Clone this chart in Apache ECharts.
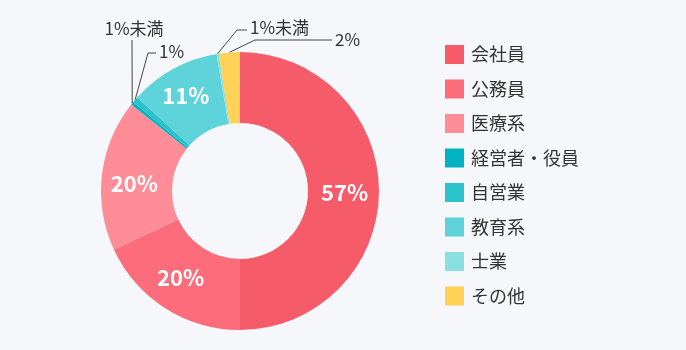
<!DOCTYPE html>
<html>
<head>
<meta charset="utf-8">
<title>職業構成</title>
<script src="https://cdn.jsdelivr.net/npm/echarts@6/dist/echarts.min.js"></script>
<style>
  html, body { margin: 0; padding: 0; background: #f6f7fb; }
  #chart { width: 686px; height: 350px; }
</style>
</head>
<body>
<div id="chart"></div>
<script>
// 職業カテゴリ
var categories = ['会社員', '公務員', '医療系', '経営者・役員', '自営業', '教育系', '士業', 'その他'];
// 円グラフ上の大きさ
var values = [50, 18.1, 17.6, 0.35, 0.7, 10.55, 0.25, 2.45];
// 表示ラベル
var labels = ['57%', '20%', '20%', '1%未満', '1%', '11%', '1%未満', '2%'];
var colors = ['#f65b6a', '#fc6c7a', '#fe8d97', '#00b3c2', '#2cc2cb', '#5ed3d9', '#8adfe3', '#fed257'];

// 外側ラベルの配置（テキスト位置と引き出し線の折れ点）
var outside = {
  3: { x: 134, y: 29, align: 'center', pts: [[132, 40]] },
  4: { x: 159, y: 52, align: 'left', pts: [[148, 53], [156, 53]] },
  6: { x: 250, y: 28, align: 'left', pts: [[237, 30], [247, 30]] },
  7: { x: 335, y: 40, align: 'left', pts: [[255, 40], [332, 40]] }
};
// 内側ラベルの微調整
var nudge = { 0: [-2, 2], 1: [-2, -3], 2: [0, 5], 5: [-3, -2] };

var font = '"Noto Sans CJK JP", "Noto Sans", sans-serif';

var pieData = categories.map(function (name, i) {
  var item = { name: name, value: values[i], itemStyle: { color: colors[i] } };
  if (outside[i]) {
    item.label = { position: 'outside', color: '#333', fontSize: 17, fontWeight: 'normal' };
    item.labelLine = { show: true, lineStyle: { color: '#444', width: 1 } };
  }
  return item;
});

var myChart = echarts.init(document.getElementById('chart'));
myChart.setOption({
  backgroundColor: '#f6f7fb',
  animation: false,
  legend: {
    orient: 'vertical',
    left: 440,
    top: 40,
    icon: 'rect',
    itemWidth: 19,
    itemHeight: 19,
    itemGap: 15.5,
    selectedMode: false,
    textStyle: { fontFamily: font, fontSize: 18, color: '#333', padding: [0, 0, 0, 2] },
    data: categories
  },
  series: [{
    type: 'pie',
    center: [240, 191],
    radius: [68, 139],
    startAngle: 90,
    clockwise: true,
    avoidLabelOverlap: false,
    emphasis: { disabled: true },
    label: {
      show: true,
      position: 'inside',
      fontFamily: font,
      fontSize: 22,
      fontWeight: 'bold',
      color: '#fff',
      formatter: function (p) { return labels[p.dataIndex]; }
    },
    labelLine: { show: true },
    labelLayout: function (p) {
      var o = outside[p.dataIndex];
      if (!o) {
        var d = nudge[p.dataIndex] || [0, 0];
        return { dx: d[0], dy: d[1] };
      }
      var start = p.labelLinePoints ? p.labelLinePoints[0] : o.pts[0];
      var pts = [start].concat(o.pts);
      if (pts.length < 3) pts.push(o.pts[o.pts.length - 1]);
      return { x: o.x, y: o.y, align: o.align, verticalAlign: 'middle', labelLinePoints: pts };
    },
    data: pieData
  }]
});
</script>
</body>
</html>
